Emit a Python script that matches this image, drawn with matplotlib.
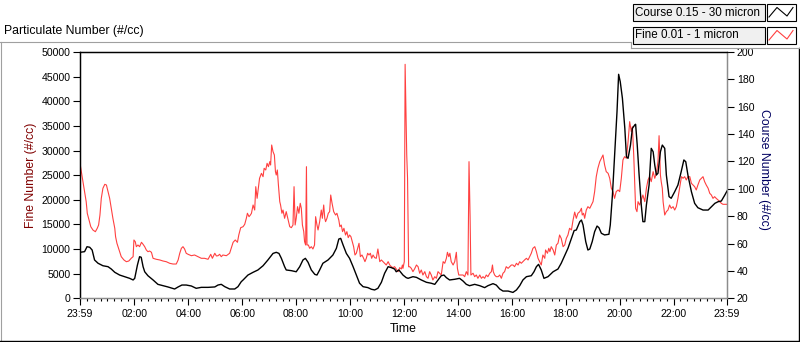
import matplotlib
matplotlib.use("Agg")
import matplotlib.pyplot as plt
from matplotlib.lines import Line2D
from matplotlib.patches import Rectangle

plt.rcParams['font.family'] = ['Liberation Sans', 'DejaVu Sans']

# ---- data: hours since 23:59 ----
# coarse particles (right axis)
course_hours = [
    0.00, 0.17, 0.26, 0.36, 0.45, 0.54, 0.67, 0.85, 1.04, 1.16,
    1.29, 1.47, 1.66, 1.84, 1.97, 2.03, 2.13, 2.21, 2.27, 2.34,
    2.40, 2.52, 2.71, 2.89, 3.08, 3.26, 3.51, 3.64, 3.78, 3.94,
    4.13, 4.31, 4.50, 4.75, 5.00, 5.12, 5.24, 5.37, 5.55, 5.74,
    5.86, 5.98, 6.05, 6.23, 6.42, 6.60, 6.79, 6.97, 7.16, 7.28,
    7.38, 7.47, 7.59, 7.65, 7.84, 8.02, 8.15, 8.27, 8.36, 8.46,
    8.58, 8.71, 8.79, 8.89, 9.01, 9.20, 9.38, 9.51, 9.60, 9.67,
    9.76, 9.88, 10.00, 10.13, 10.25, 10.37, 10.50, 10.68, 10.81, 10.93,
    11.05, 11.18, 11.30, 11.43, 11.55, 11.67, 11.73, 11.83, 11.98, 12.10,
    12.17, 12.35, 12.48, 12.66, 12.85, 13.03, 13.16, 13.28, 13.40, 13.50,
    13.59, 13.71, 13.90, 14.08, 14.21, 14.33, 14.45, 14.64, 14.83, 15.01,
    15.13, 15.32, 15.44, 15.57, 15.69, 15.88, 16.06, 16.19, 16.31, 16.43,
    16.56, 16.74, 16.84, 16.93, 17.01, 17.11, 17.21, 17.36, 17.55, 17.73,
    17.85, 17.98, 18.10, 18.23, 18.33, 18.41, 18.54, 18.60, 18.66, 18.76,
    18.84, 18.91, 19.00, 19.09, 19.18, 19.25, 19.34, 19.46, 19.62, 19.67,
    19.75, 19.83, 19.92, 19.98, 20.04, 20.12, 20.21, 20.27, 20.33, 20.42,
    20.49, 20.58, 20.61, 20.67, 20.74, 20.82, 20.88, 20.95, 21.01, 21.11,
    21.19, 21.26, 21.32, 21.38, 21.44, 21.53, 21.60, 21.69, 21.75, 21.85,
    21.93, 22.06, 22.18, 22.30, 22.40, 22.47, 22.55, 22.68, 22.80, 22.92,
    23.11, 23.30, 23.42, 23.55, 23.67, 23.79, 23.92, 24.00,
]
course_counts = [
    53.6, 54.1, 57.7, 57.3, 55.3, 48.0, 45.6, 43.8, 43.1, 41.4,
    39.0, 37.0, 35.8, 34.6, 33.4, 34.6, 44.3, 50.4, 50.0, 43.1,
    39.4, 36.5, 33.4, 30.2, 29.2, 28.3, 26.8, 28.3, 29.7, 29.7,
    29.0, 27.3, 28.0, 28.0, 28.3, 29.7, 30.2, 28.5, 26.8, 26.8,
    28.5, 32.1, 33.4, 37.0, 39.0, 40.7, 43.8, 48.0, 52.8, 53.6,
    52.8, 49.2, 43.1, 40.7, 40.2, 39.4, 43.1, 48.0, 49.2, 46.3,
    40.7, 37.5, 37.0, 40.7, 45.6, 48.0, 51.6, 56.5, 63.3, 63.8,
    58.9, 52.8, 49.2, 43.1, 37.0, 31.0, 28.5, 27.8, 26.6, 26.1,
    27.3, 31.7, 38.3, 43.1, 42.4, 41.4, 39.4, 40.7, 37.0, 35.1,
    34.6, 35.8, 35.3, 33.4, 31.7, 31.0, 30.2, 33.4, 36.5, 37.0,
    35.1, 33.4, 33.9, 34.6, 32.6, 30.2, 29.2, 30.2, 29.2, 27.8,
    29.2, 30.7, 29.7, 26.8, 25.3, 25.3, 24.3, 26.1, 29.2, 33.4,
    35.8, 36.5, 39.4, 43.1, 44.8, 40.7, 34.6, 35.8, 39.4, 41.4,
    45.6, 51.2, 56.5, 63.8, 69.5, 69.9, 76.0, 77.2, 73.6, 61.4,
    55.3, 56.0, 61.4, 68.7, 72.8, 71.6, 67.5, 66.3, 66.8, 73.6,
    95.5, 124.7, 156.4, 183.7, 178.3, 166.2, 144.2, 123.5, 122.3, 132.0,
    144.2, 146.7, 147.2, 132.0, 110.1, 88.2, 76.0, 76.0, 88.2, 102.8,
    129.6, 127.1, 117.4, 110.1, 111.4, 127.1, 132.0, 129.6, 110.1, 94.3,
    93.1, 97.9, 102.8, 112.5, 121.1, 119.8, 110.1, 97.9, 89.4, 86.2,
    84.5, 84.5, 86.9, 89.4, 90.6, 91.1, 95.5, 98.4,
]

# fine particles (left axis)
fine_hours = [
    0.00, 0.05, 0.11, 0.17, 0.23, 0.27, 0.32, 0.40, 0.48, 0.57,
    0.64, 0.69, 0.74, 0.79, 0.85, 0.92, 0.98, 1.04, 1.10, 1.16,
    1.22, 1.29, 1.32, 1.37, 1.41, 1.47, 1.53, 1.63, 1.72, 1.81,
    1.90, 1.97, 2.00, 2.05, 2.09, 2.15, 2.21, 2.28, 2.34, 2.40,
    2.46, 2.52, 2.58, 2.65, 2.71, 2.83, 2.96, 3.08, 3.20, 3.33,
    3.45, 3.57, 3.64, 3.70, 3.76, 3.82, 3.88, 3.94, 4.01, 4.13,
    4.25, 4.38, 4.50, 4.62, 4.75, 4.85, 4.91, 5.00, 5.06, 5.12,
    5.18, 5.24, 5.30, 5.43, 5.55, 5.61, 5.68, 5.76, 5.84, 5.89,
    5.96,
    6.05, 6.11, 6.17, 6.21, 6.27, 6.32, 6.36, 6.42, 6.48, 6.52,
    6.57, 6.60, 6.66, 6.73, 6.79, 6.83, 6.89, 6.94, 6.99, 7.04,
    7.07, 7.11, 7.16, 7.21, 7.25, 7.28, 7.32, 7.36, 7.41, 7.44,
    7.49, 7.53, 7.59, 7.65, 7.72, 7.78, 7.84, 7.90, 7.94, 7.98,
    8.02, 8.07, 8.12, 8.17, 8.21, 8.25, 8.30, 8.33, 8.37, 8.40,
    8.42, 8.47, 8.52, 8.58, 8.64, 8.70, 8.74, 8.79, 8.83, 8.89,
    8.95, 8.99, 9.04, 9.08, 9.11, 9.16, 9.21, 9.26, 9.30, 9.35,
    9.41, 9.48, 9.53, 9.60, 9.64, 9.69, 9.74, 9.79, 9.85, 9.90,
    9.95, 10.00, 10.05, 10.10, 10.15, 10.20, 10.25, 10.30, 10.35, 10.40,
    10.46, 10.52, 10.57, 10.62, 10.67, 10.72, 10.77, 10.82, 10.87, 10.93,
    10.99, 11.05, 11.12, 11.18, 11.24, 11.30, 11.36, 11.43, 11.49, 11.55,
    11.61, 11.67, 11.73, 11.80, 11.86, 11.92, 11.96, 11.98, 12.03, 12.06,
    12.09, 12.12, 12.15, 12.19,
    12.23, 12.29, 12.35, 12.41, 12.48, 12.54, 12.60, 12.66, 12.72, 12.79,
    12.85, 12.91, 12.97, 13.03, 13.09, 13.16, 13.22, 13.28, 13.34, 13.40,
    13.47, 13.53, 13.59, 13.63, 13.68, 13.72, 13.77, 13.84, 13.90, 13.96,
    14.00, 14.05, 14.15, 14.21, 14.27, 14.33, 14.39, 14.43, 14.47, 14.50,
    14.58, 14.64, 14.70, 14.76, 14.83, 14.89, 14.95, 15.01, 15.07, 15.13,
    15.20, 15.26, 15.30, 15.33, 15.38, 15.44, 15.51, 15.57, 15.63, 15.69,
    15.75, 15.81, 15.88, 15.94, 16.00, 16.06, 16.12, 16.19, 16.25, 16.31,
    16.37, 16.43, 16.49, 16.56, 16.62, 16.68, 16.74, 16.80, 16.87, 16.93,
    16.99, 17.05, 17.11, 17.17, 17.24, 17.27, 17.34, 17.39, 17.43, 17.48,
    17.55, 17.61, 17.67, 17.73, 17.79, 17.85, 17.92, 17.98, 18.04, 18.10,
    18.16, 18.23, 18.29, 18.35,
    18.41, 18.47, 18.54, 18.60, 18.63, 18.68, 18.72, 18.78, 18.84, 18.91,
    18.97, 19.03, 19.09, 19.15, 19.21, 19.28, 19.34, 19.40, 19.46, 19.52,
    19.59, 19.65, 19.71, 19.77, 19.83, 19.89, 19.96, 20.02, 20.08, 20.14,
    20.20, 20.27, 20.33, 20.39, 20.45, 20.49, 20.54, 20.58, 20.61, 20.66,
    20.70, 20.76, 20.82, 20.88, 20.95, 21.01, 21.07, 21.13, 21.19, 21.26,
    21.32, 21.38, 21.44, 21.48, 21.53, 21.56, 21.60, 21.63, 21.69, 21.75,
    21.81, 21.87, 21.93, 22.00, 22.06, 22.12, 22.18, 22.24, 22.31, 22.37,
    22.43, 22.49, 22.55, 22.62, 22.68, 22.74, 22.80, 22.86, 22.92, 22.99,
    23.05, 23.11, 23.17, 23.23, 23.30, 23.36, 23.42, 23.48, 23.54, 23.60,
    23.67, 23.73, 23.79, 23.85, 23.91, 23.98,
]
fine_counts = [
    27400, 25700, 23700, 21640, 19600, 17250, 16240, 14540, 13860, 13520,
    14210, 14880, 16910, 20300, 22330, 23140, 23000, 21640, 20300, 18270,
    16240, 14210, 12500, 11170, 10480, 9460, 8450, 7780, 7430, 7570,
    8120, 8450, 11840, 11490, 10480, 10820, 10480, 11370, 10960, 10480,
    9810, 9460, 9600, 9340, 8120, 7920, 7780, 7570, 7430, 7100,
    6960, 6960, 7780, 9140, 10150, 10480, 10010, 9140, 8930, 8650,
    8790, 8450, 8120, 8120, 7920, 8930, 8120, 9140, 8590, 8650,
    8930, 8450, 8790, 8650, 9140, 10150, 11370, 11840, 11370, 12850,
    14330,
    14540, 15020, 16240, 17260, 16570, 16910, 17260, 18940, 17920, 22660,
    20300, 21650, 24360, 25370, 24690, 26390, 26050, 27400, 26720, 27740,
    27060, 31120, 29770, 29090, 25710, 25030, 26050, 23000, 19620, 18940,
    17260, 17920, 16240, 17590, 15900, 14540, 14340, 14880, 22660, 14880,
    16240, 18600, 17260, 19290, 18270, 14880, 13530, 11500, 10820, 26720,
    10820, 10820, 10150, 10480, 10010, 10820, 16570, 14880, 13870, 15560,
    17920, 16240, 18940, 16240, 15560, 16240, 17260, 17590, 20970, 19290,
    17590, 16910, 17260, 15900, 14540, 14880, 13530, 14210, 12850, 13530,
    12310, 12850, 12510, 11500, 10480, 8790, 9140, 10150, 11170, 8450,
    8790, 8120, 7440, 8120, 9140, 8790, 9140, 8120, 8790, 8250,
    8120, 10010, 7440, 7780, 7440, 7110, 6760, 7440, 6760, 6420,
    6220, 6420, 5950, 5410, 6220, 5950, 6760, 6080, 7440, 47500,
    37900, 29100, 24400, 6400,
    6420, 6080, 5410, 5950, 6760, 6420, 5080, 5750, 4730, 5410,
    4390, 4060, 5410, 4730, 3720, 4390, 4060, 5410, 5080, 4730,
    7440, 7110, 8120, 9340, 8450, 9140, 7440, 6760, 7440, 9340,
    6080, 4730, 4730, 4730, 4390, 5410, 4730, 27740, 16570, 4730,
    5080, 4390, 4730, 4060, 4730, 4060, 4390, 4060, 4730, 4390,
    5080, 5410, 6760, 5410, 4730, 4390, 4390, 4730, 4060, 5080,
    5410, 6420, 6080, 6420, 6760, 6760, 6420, 7110, 6760, 7440,
    7110, 7440, 7780, 8120, 7780, 8450, 9140, 10150, 10480, 9470,
    8120, 7440, 6760, 8790, 8120, 9810, 9140, 10150, 9470, 10480,
    9810, 8790, 10820, 11170, 12850, 12170, 10480, 10820, 12170, 12850,
    14210, 13870, 15900, 17500,
    16240, 17260, 17590, 18270, 16910, 17260, 16240, 17920, 18600, 18270,
    18940, 19620, 21650, 24690, 26390, 27740, 28420, 29090, 27060, 25710,
    25370, 24360, 22330, 21650, 20290, 21650, 21990, 21650, 24360, 28080,
    28750, 28420, 31800, 35860, 33830, 34840, 29090, 23000, 18270, 17590,
    19620, 18940, 19960, 20970, 19620, 22330, 24020, 24690, 23680, 25710,
    24360, 25370, 27740, 33010, 25030, 23680, 22330, 19620, 16910, 17590,
    17920, 18940, 18270, 18600, 17920, 18600, 20290, 22330, 24690, 24360,
    24690, 24020, 24690, 24690, 23340, 23000, 22660, 21990, 23000, 24020,
    24350, 24690, 23680, 23000, 22330, 21310, 20970, 20290, 20630, 20290,
    19950, 19620, 19280, 19080, 19080, 19080,
]

tick_hours = [0, 2.0167, 4.0167, 6.0167, 8.0167, 10.0167, 12.0167,
              14.0167, 16.0167, 18.0167, 20.0167, 22.0167, 24]
tick_labels = ['23:59', '02:00', '04:00', '06:00', '08:00', '10:00', '12:00',
               '14:00', '16:00', '18:00', '20:00', '22:00', '23:59']

W, H = 800, 342
fig = plt.figure(figsize=(W / 100, H / 100), dpi=100)
fig.patch.set_facecolor('white')


def fx(px):
    return px / W


def fy(py):
    return 1 - py / H


ax = fig.add_axes([fx(80), fy(298.3), fx(727) - fx(80), fy(52) - fy(298.3)])
ax2 = ax.twinx()

ax.plot(fine_hours, fine_counts, color='#ff4040', lw=0.8)
ax2.plot(course_hours, course_counts, color='black', lw=1.0)

ax.set_xlim(0, 24)
ax.set_ylim(0, 50000)
ax2.set_ylim(20, 200)
ax.set_yticks(range(0, 50001, 5000))
ax2.set_yticks(range(20, 201, 20))
ax.set_xticks(tick_hours)
ax.set_xticklabels(tick_labels)
ax.set_xticks([0.0167 + 0.25 * k for k in range(96)], minor=True)

fs = 7.6
ax.tick_params(axis='x', which='major', length=5, width=0.8, pad=2.5, labelsize=fs, colors='black')
ax.tick_params(axis='x', which='minor', length=2.5, width=0.8)
ax.tick_params(axis='y', length=5, width=0.8, pad=2, labelsize=fs)
ax2.tick_params(axis='y', length=5, width=0.8, pad=2, labelsize=fs)

for a in (ax, ax2):
    a.spines['left'].set_color('black')
    a.spines['top'].set_color('black')
    a.spines['right'].set_color('#8c8c8c')
    a.spines['bottom'].set_color('#8c8c8c')
    for s in a.spines.values():
        s.set_linewidth(0.9)

# labels
lab = 8.8
fig.text(fx(4), fy(31), 'Particulate Number (#/cc)', fontsize=lab, ha='left', va='center')
fig.text(fx(31), fy(175), 'Fine Number (#/cc)', fontsize=lab, rotation=90,
         ha='center', va='center', color='#800000')
fig.text(fx(764), fy(169), 'Course Number (#/cc)', fontsize=lab, rotation=270,
         ha='center', va='center', color='#000060')
fig.text(fx(403), fy(329), 'Time', fontsize=lab, ha='center', va='center')

# panel frame
def fline(xs, ys, color, lw=0.8):
    fig.add_artist(Line2D([fx(v) for v in xs], [fy(v) for v in ys],
                          transform=fig.transFigure, color=color, lw=lw))


fline([0, 631], [41.5, 41.5], '#a0a0a0')
fline([1, 1], [41.5, 340], '#a0a0a0')
fline([0, 800], [340.5, 340.5], 'black', 1.0)
fline([798.5, 798.5], [48, 341], 'black', 1.0)
fline([631, 631], [41.5, 48], '#a0a0a0')
fline([631, 800], [48, 48], '#a0a0a0')

# legend boxes
legend_rows = [('Course 0.15 - 30 micron', 'black', 4),
               ('Fine 0.01 - 1 micron', '#ff4040', 27)]
for text, col, top in legend_rows:
    fig.add_artist(Rectangle((fx(632.5), fy(top + 17)), fx(765) - fx(632.5), fy(top) - fy(top + 17),
                             transform=fig.transFigure, facecolor='#f0f0f0',
                             edgecolor='black', lw=0.8))
    fig.add_artist(Rectangle((fx(767), fy(top + 17)), fx(796) - fx(767), fy(top) - fy(top + 17),
                             transform=fig.transFigure, facecolor='white',
                             edgecolor='black', lw=0.8))
    fig.text(fx(635), fy(top + 8.5), text, fontsize=8.4, ha='left', va='center')
    fline([769, 777, 787, 793], [top + 13, top + 3.5, top + 12, top + 3.5], col, 0.8)

fig.savefig('out.png', dpi=100)
